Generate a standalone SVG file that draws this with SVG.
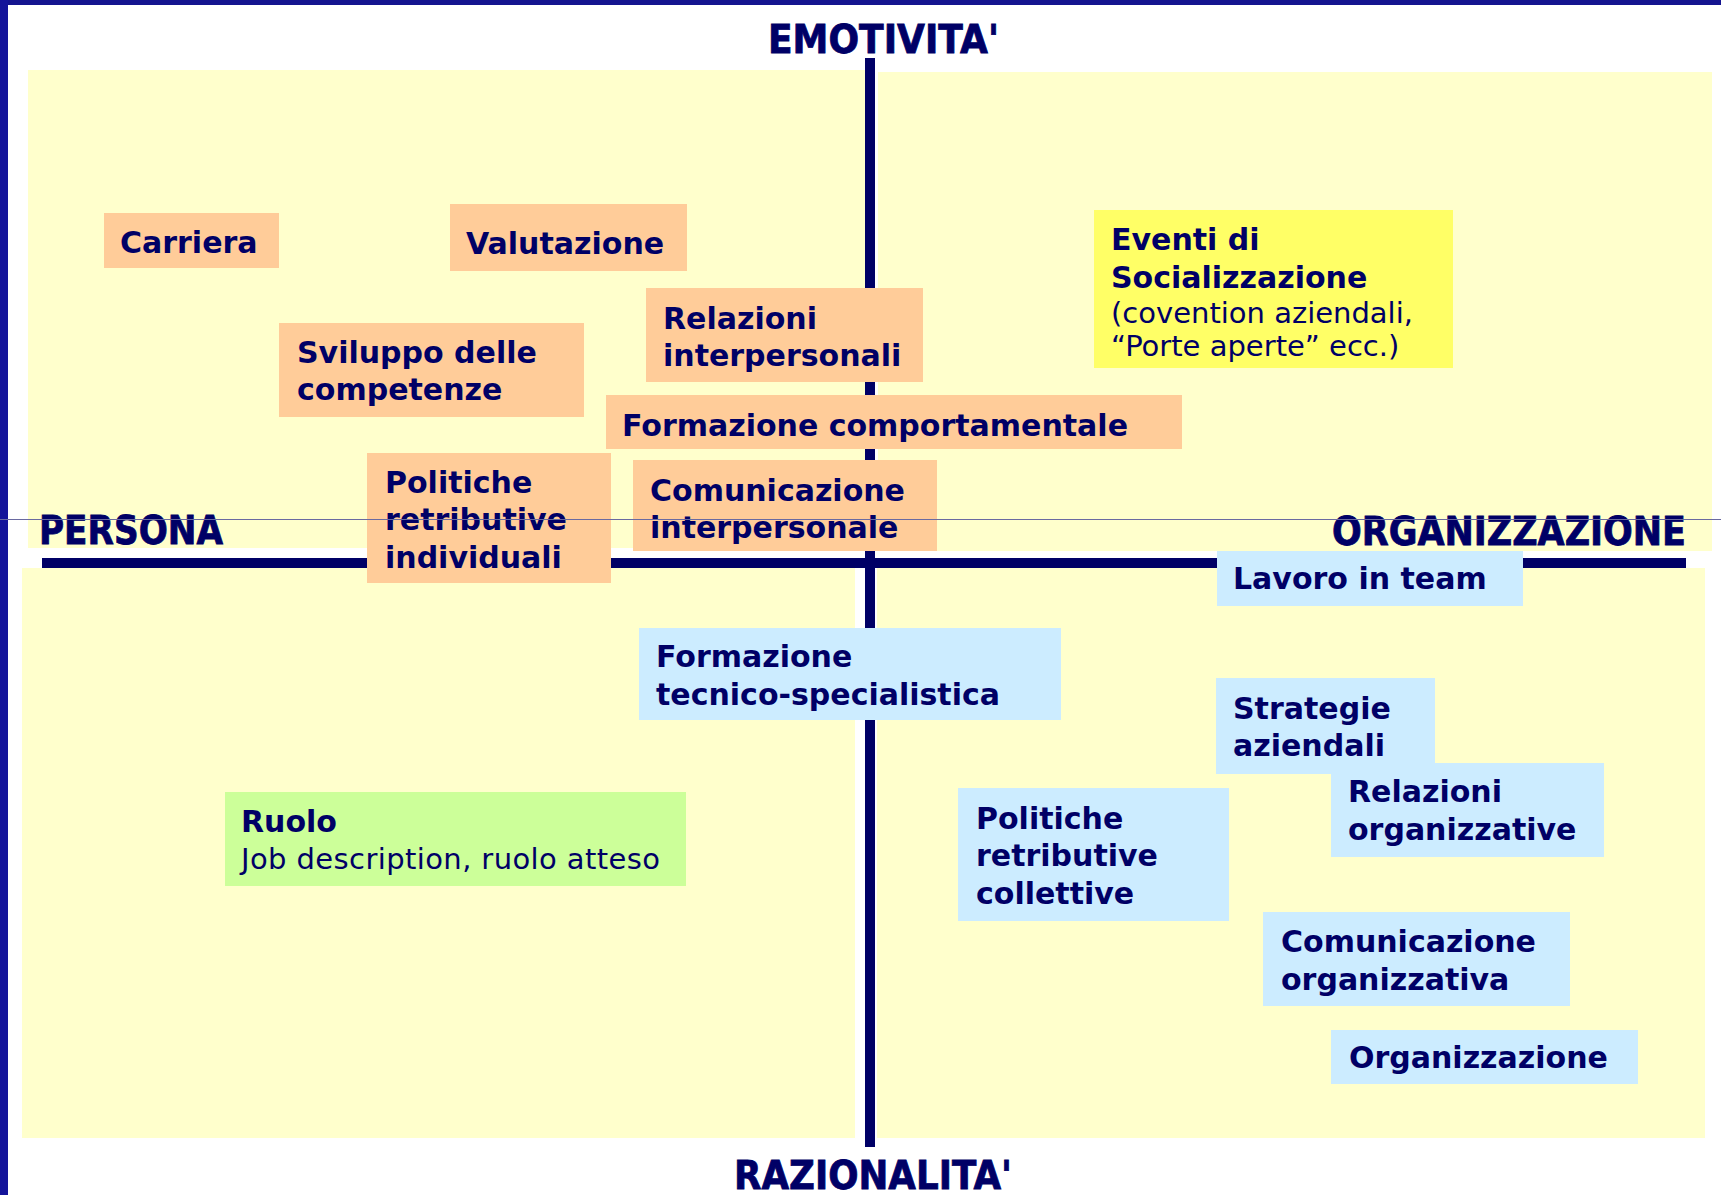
<svg xmlns="http://www.w3.org/2000/svg" width="1721" height="1195" viewBox="0 0 1721 1195">
<style>
.panel{fill:#FFFFCC}
.axis{fill:#000066}
.ax{font-family:"DejaVu Sans",Verdana,sans-serif;font-weight:bold;font-size:39px;fill:#000066;stroke:#000066;stroke-width:0.8}
.t{font-family:"DejaVu Sans",Verdana,sans-serif;font-weight:bold;font-size:30px;fill:#000066}
.r{font-family:"DejaVu Sans",Verdana,sans-serif;font-size:29px;fill:#000066}
.or{fill:#FFCC99}
.bl{fill:#CCECFF}
</style>
<rect x="0" y="0" width="1721" height="1195" fill="#ffffff"/>
<rect x="0" y="0" width="1721" height="5" fill="#14148f"/>
<rect x="0" y="0" width="8" height="1195" fill="#14149a"/>
<g id="panels">
<rect class="panel" x="28" y="70" width="839" height="478"/>
<rect class="panel" x="878" y="72" width="834" height="479"/>
<rect class="panel" x="22" y="568" width="833" height="570"/>
<rect class="panel" x="877" y="568" width="828" height="570"/>
</g>
<g id="connectors">
<rect class="axis" x="865" y="58" width="10" height="1089"/>
<rect class="axis" x="42" y="558" width="1644" height="10"/>
</g>
<g id="axis-labels">
<text class="ax" x="768" y="53" textLength="231" lengthAdjust="spacingAndGlyphs">EMOTIVITA'</text>
<text class="ax" x="39" y="544" textLength="184" lengthAdjust="spacingAndGlyphs">PERSONA</text>
<text class="ax" x="1332" y="545" textLength="354" lengthAdjust="spacingAndGlyphs">ORGANIZZAZIONE</text>
<text class="ax" x="734" y="1189" textLength="278" lengthAdjust="spacingAndGlyphs">RAZIONALITA'</text>
</g>
<g id="carriera"><rect class="or" x="104" y="213" width="175" height="55"/><text class="t" x="120" y="253">Carriera</text></g>
<g id="valutazione"><rect class="or" x="450" y="204" width="237" height="67"/><text class="t" x="466" y="254">Valutazione</text></g>
<g id="relazioni-interpersonali"><rect class="or" x="646" y="288" width="277" height="94"/><text class="t" x="663" y="329">Relazioni</text><text class="t" x="663" y="366">interpersonali</text></g>
<g id="sviluppo"><rect class="or" x="279" y="323" width="305" height="94"/><text class="t" x="297" y="363">Sviluppo delle</text><text class="t" x="297" y="400">competenze</text></g>
<g id="formazione-comportamentale"><rect class="or" x="606" y="395" width="576" height="54"/><text class="t" x="622" y="436">Formazione comportamentale</text></g>
<g id="politiche-individuali"><rect class="or" x="367" y="453" width="244" height="130"/><text class="t" x="385" y="493">Politiche</text><text class="t" x="385" y="530">retributive</text><text class="t" x="385" y="568">individuali</text></g>
<g id="comunicazione-interpersonale"><rect class="or" x="633" y="460" width="304" height="91"/><text class="t" x="650" y="501">Comunicazione</text><text class="t" x="650" y="538">interpersonale</text></g>
<g id="eventi"><rect fill="#FFFF66" x="1094" y="210" width="359" height="158"/><text class="t" x="1111" y="250">Eventi di</text><text class="t" x="1111" y="288">Socializzazione</text><text class="r" x="1111" y="323">(covention aziendali,</text><text class="r" x="1111" y="356">“Porte aperte” ecc.)</text></g>
<g id="lavoro-team"><rect class="bl" x="1217" y="551" width="306" height="55"/><text class="t" x="1233" y="589">Lavoro in team</text></g>
<g id="formazione-tecnica"><rect class="bl" x="639" y="628" width="422" height="92"/><text class="t" x="656" y="667">Formazione</text><text class="t" x="656" y="705">tecnico-specialistica</text></g>
<g id="strategie"><rect class="bl" x="1216" y="678" width="219" height="96"/><text class="t" x="1233" y="719">Strategie</text><text class="t" x="1233" y="756">aziendali</text></g>
<g id="relazioni-organizzative"><rect class="bl" x="1331" y="763" width="273" height="94"/><text class="t" x="1348" y="802">Relazioni</text><text class="t" x="1348" y="840">organizzative</text></g>
<g id="politiche-collettive"><rect class="bl" x="958" y="788" width="271" height="133"/><text class="t" x="976" y="829">Politiche</text><text class="t" x="976" y="866">retributive</text><text class="t" x="976" y="904">collettive</text></g>
<g id="ruolo"><rect fill="#CCFF99" x="225" y="792" width="461" height="94"/><text class="t" x="241" y="832">Ruolo</text><text class="r" x="241" y="869" textLength="419" lengthAdjust="spacing">Job description, ruolo atteso</text></g>
<g id="comunicazione-organizzativa"><rect class="bl" x="1263" y="912" width="307" height="94"/><text class="t" x="1281" y="952">Comunicazione</text><text class="t" x="1281" y="990">organizzativa</text></g>
<g id="organizzazione"><rect class="bl" x="1331" y="1030" width="307" height="54"/><text class="t" x="1349" y="1068">Organizzazione</text></g>
<line x1="0" y1="519.5" x2="1721" y2="519.5" stroke="#6a6aa0" stroke-width="1"/>
</svg>
